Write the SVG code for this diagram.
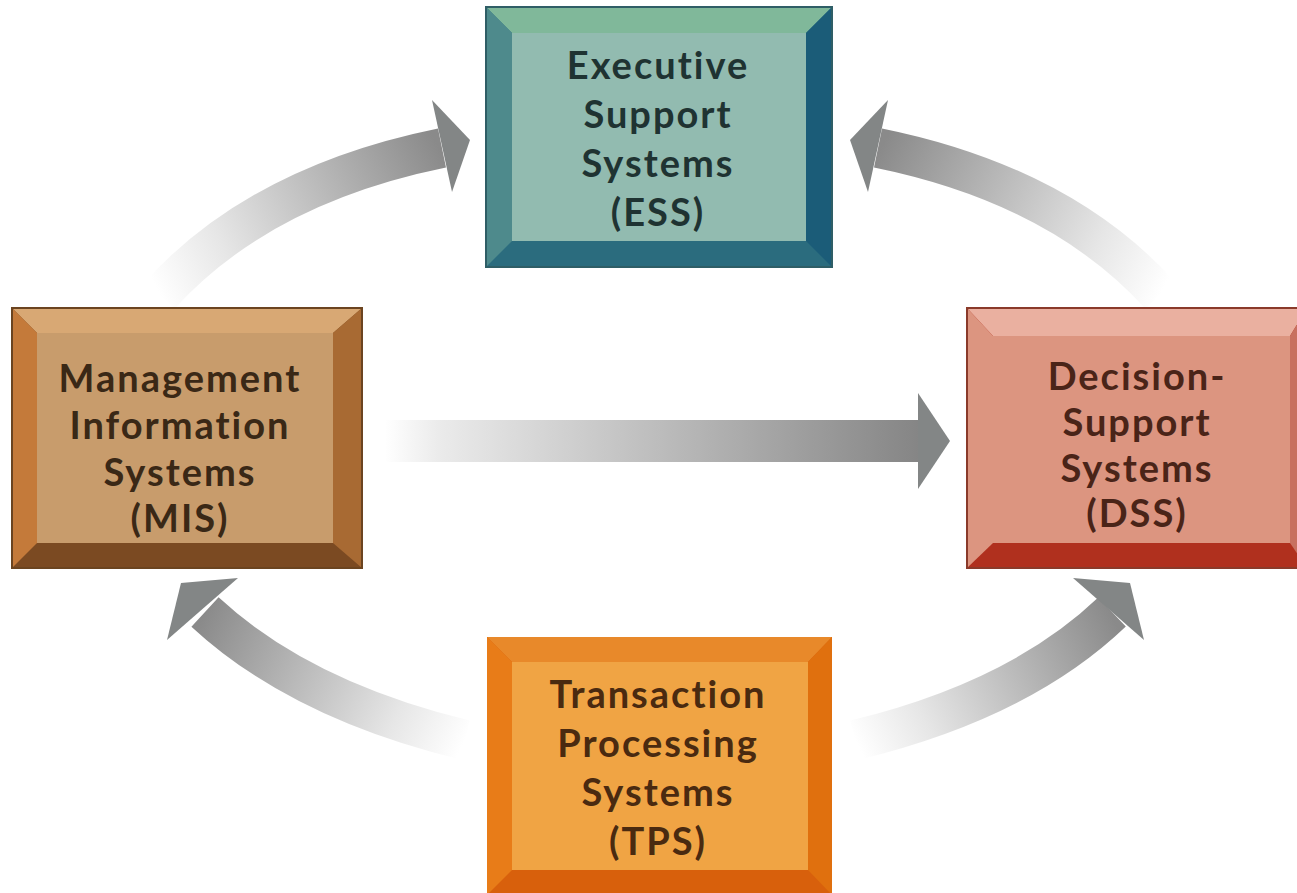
<svg xmlns="http://www.w3.org/2000/svg" width="1297" height="893" viewBox="0 0 1297 893">
<defs>
<style>
.lbl{font-family:Lato,"Open Sans","Liberation Sans",sans-serif;font-weight:700;font-size:38px;letter-spacing:2px;text-anchor:middle}
.arr{fill:none;stroke-width:40;stroke-linecap:butt}
.head{fill:#838686}
</style>
<linearGradient id="g1" gradientUnits="userSpaceOnUse" x1="160" y1="295" x2="440" y2="150"><stop offset="0" stop-color="#ffffff"/><stop offset="0.25" stop-color="#e6e6e6"/><stop offset="1" stop-color="#8a8a8a"/></linearGradient>
<linearGradient id="g2" gradientUnits="userSpaceOnUse" x1="1160" y1="295" x2="880" y2="150"><stop offset="0" stop-color="#ffffff"/><stop offset="0.25" stop-color="#e6e6e6"/><stop offset="1" stop-color="#8a8a8a"/></linearGradient>
<linearGradient id="g3" gradientUnits="userSpaceOnUse" x1="465" y1="740" x2="205" y2="612"><stop offset="0" stop-color="#ffffff"/><stop offset="0.25" stop-color="#e6e6e6"/><stop offset="1" stop-color="#8a8a8a"/></linearGradient>
<linearGradient id="g4" gradientUnits="userSpaceOnUse" x1="855" y1="740" x2="1110" y2="612"><stop offset="0" stop-color="#ffffff"/><stop offset="0.25" stop-color="#e6e6e6"/><stop offset="1" stop-color="#8a8a8a"/></linearGradient>
<linearGradient id="g5" gradientUnits="userSpaceOnUse" x1="385" y1="0" x2="920" y2="0"><stop offset="0" stop-color="#ffffff"/><stop offset="0.1" stop-color="#ebebeb"/><stop offset="1" stop-color="#858585"/></linearGradient>
</defs>
<rect width="1297" height="893" fill="#ffffff"/>

<g id="connectors">
<path class="arr" stroke="url(#g1)" d="M160 295 Q260 185 442 148"/>
<polygon class="head" points="432,100 470,140 452,192"/>
<path class="arr" stroke="url(#g2)" d="M1160 295 Q1060 185 878 148"/>
<polygon class="head" points="888,100 850,140 868,192"/>
<path class="arr" stroke="url(#g3)" d="M465 740 Q300 700 205 612"/>
<polygon class="head" points="238,578 181,583 167,640"/>
<path class="arr" stroke="url(#g4)" d="M855 740 Q1020 700 1112 612"/>
<polygon class="head" points="1073,578 1130,583 1144,640"/>
<rect x="385" y="420" width="535" height="42" fill="url(#g5)"/>
<polygon class="head" points="918,393 950,441 918,489"/>
</g>

<g id="ess">
<rect x="486" y="7" width="346" height="260" fill="#2b6c7e"/>
<polygon points="486,7 832,7 806,33 512,33" fill="#80b89a"/>
<polygon points="486,7 512,33 512,241 486,267" fill="#4e8a8c"/>
<polygon points="832,7 832,267 806,241 806,33" fill="#1b5c78"/>
<rect x="512" y="33" width="294" height="208" fill="#92bbb0"/>
<rect x="486" y="7" width="346" height="260" fill="none" stroke="#2f5e66" stroke-width="2"/>
<g class="lbl" fill="#1f3332">
<text x="658" y="79">Executive</text>
<text x="658" y="128">Support</text>
<text x="658" y="177">Systems</text>
<text x="658" y="226">(ESS)</text>
</g>
</g>

<g id="mis">
<rect x="12" y="308" width="350" height="260" fill="#7b4a22"/>
<polygon points="12,308 362,308 333,333 37,333" fill="#d8a874"/>
<polygon points="12,308 37,333 37,543 12,568" fill="#c47a3a"/>
<polygon points="362,308 362,568 333,543 333,333" fill="#a86a33"/>
<rect x="37" y="333" width="296" height="210" fill="#c89c6c"/>
<rect x="12" y="308" width="350" height="260" fill="none" stroke="#6b4420" stroke-width="2"/>
<g class="lbl" fill="#3a2816">
<text x="180" y="392">Management</text>
<text x="180" y="439">Information</text>
<text x="180" y="486">Systems</text>
<text x="180" y="532">(MIS)</text>
</g>
</g>

<g id="dss">
<rect x="967" y="308" width="340" height="260" fill="#b0301e"/>
<polygon points="967,308 1307,308 1290,336 993,336" fill="#eab0a0"/>
<polygon points="967,308 993,336 993,543 967,568" fill="#dc9580"/>
<polygon points="1307,308 1307,568 1290,543 1290,336" fill="#c87060"/>
<rect x="993" y="336" width="297" height="207" fill="#dc9580"/>
<rect x="967" y="308" width="340" height="260" fill="none" stroke="#8a3a2a" stroke-width="2"/>
<g class="lbl" fill="#4a2418">
<text x="1137" y="390">Decision-</text>
<text x="1137" y="436">Support</text>
<text x="1137" y="482">Systems</text>
<text x="1137" y="527">(DSS)</text>
</g>
</g>

<g id="tps">
<rect x="487" y="637" width="345" height="270" fill="#d8600c"/>
<polygon points="487,637 832,637 808,662 512,662" fill="#e8892a"/>
<polygon points="487,637 512,662 512,870 487,895" fill="#e87c18"/>
<polygon points="832,637 832,895 808,870 808,662" fill="#e0700e"/>
<rect x="512" y="662" width="296" height="208" fill="#f0a444"/>
<g class="lbl" fill="#4a2a10">
<text x="658" y="708">Transaction</text>
<text x="658" y="757">Processing</text>
<text x="658" y="806">Systems</text>
<text x="658" y="855">(TPS)</text>
</g>
</g>
</svg>
